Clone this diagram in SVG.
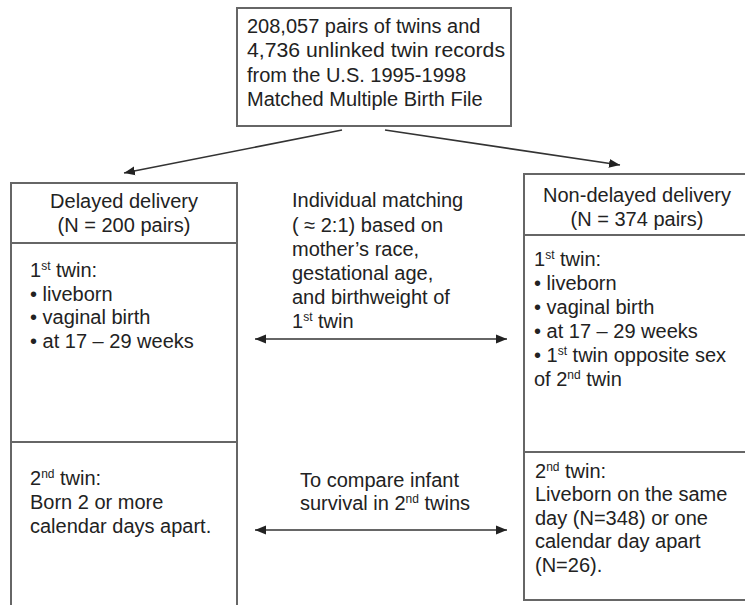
<svg xmlns="http://www.w3.org/2000/svg" width="745" height="605" viewBox="0 0 745 605">
<style>
text{font-family:"Liberation Sans",Arial,sans-serif;font-size:20px;fill:#222}
.c{text-anchor:middle}
.sup{font-size:12px}
.box{fill:#fff;stroke:#666;stroke-width:2}
.div{stroke:#666;stroke-width:2}
.arr{stroke:#333;stroke-width:1.6;fill:none}
</style>
<defs>
<marker id="ah" markerUnits="userSpaceOnUse" markerWidth="12" markerHeight="10" viewBox="0 0 12 10" refX="11" refY="5" orient="auto-start-reverse">
<path d="M0,0.5 L11,5 L0,9.5 Z" fill="#222"/>
</marker>
</defs>
<rect width="745" height="605" fill="#fff"/>
<g id="source">
<rect class="box" x="237" y="8" width="274" height="118"/>
<text x="247" y="33">208,057 pairs of twins and</text>
<text x="247" y="57" textLength="258" lengthAdjust="spacingAndGlyphs">4,736 unlinked twin records</text>
<text x="247" y="82">from the U.S. 1995-1998</text>
<text x="247" y="106">Matched Multiple Birth File</text>
</g>
<g id="delayed">
<rect class="box" x="11" y="183" width="226" height="432"/>
<line class="div" x1="11" y1="243" x2="237" y2="243"/>
<line class="div" x1="11" y1="442" x2="237" y2="442"/>
<text class="c" x="124" y="208">Delayed delivery</text>
<text class="c" x="124" y="232">(N = 200 pairs)</text>
<text x="30" y="277">1<tspan class="sup" dy="-7">st</tspan><tspan dy="7"> twin:</tspan></text>
<text x="30" y="301">• liveborn</text>
<text x="30" y="324">• vaginal birth</text>
<text x="30" y="348">• at 17 – 29 weeks</text>
<text x="30" y="485">2<tspan class="sup" dy="-7">nd</tspan><tspan dy="7"> twin:</tspan></text>
<text x="30" y="509">Born 2 or more</text>
<text x="30" y="533">calendar days apart.</text>
</g>
<g id="nondelayed">
<rect class="box" x="524" y="174" width="230" height="426"/>
<line class="div" x1="524" y1="235" x2="754" y2="235"/>
<line class="div" x1="524" y1="452" x2="754" y2="452"/>
<text class="c" x="637" y="202">Non-delayed delivery</text>
<text class="c" x="637" y="226">(N = 374 pairs)</text>
<text x="534" y="266">1<tspan class="sup" dy="-7">st</tspan><tspan dy="7"> twin:</tspan></text>
<text x="534" y="290">• liveborn</text>
<text x="534" y="314">• vaginal birth</text>
<text x="534" y="338">• at 17 – 29 weeks</text>
<text x="534" y="362">• 1<tspan class="sup" dy="-7">st</tspan><tspan dy="7"> twin opposite sex</tspan></text>
<text x="534" y="386">of 2<tspan class="sup" dy="-7">nd</tspan><tspan dy="7"> twin</tspan></text>
<text x="535" y="478">2<tspan class="sup" dy="-7">nd</tspan><tspan dy="7"> twin:</tspan></text>
<text x="535" y="501">Liveborn on the same</text>
<text x="535" y="525">day (N=348) or one</text>
<text x="535" y="548">calendar day apart</text>
<text x="535" y="572">(N=26).</text>
</g>
<g id="matching-label">
<text x="292" y="207">Individual matching</text>
<text x="292" y="232">( ≈ 2:1) based on</text>
<text x="292" y="256">mother’s race,</text>
<text x="292" y="280">gestational age,</text>
<text x="292" y="304">and birthweight of</text>
<text x="292" y="328">1<tspan class="sup" dy="-7">st</tspan><tspan dy="7"> twin</tspan></text>
</g>
<g id="compare-label">
<text x="300" y="487">To compare infant</text>
<text x="300" y="510">survival in 2<tspan class="sup" dy="-7">nd</tspan><tspan dy="7"> twins</tspan></text>
</g>
<g id="connectors">
<line class="arr" x1="342" y1="130" x2="124" y2="173" marker-end="url(#ah)"/>
<line class="arr" x1="385" y1="130" x2="620" y2="165" marker-end="url(#ah)"/>
<line class="arr" x1="255" y1="339" x2="507" y2="339" marker-start="url(#ah)" marker-end="url(#ah)"/>
<line class="arr" x1="255" y1="530" x2="507" y2="530" marker-start="url(#ah)" marker-end="url(#ah)"/>
</g>
</svg>
